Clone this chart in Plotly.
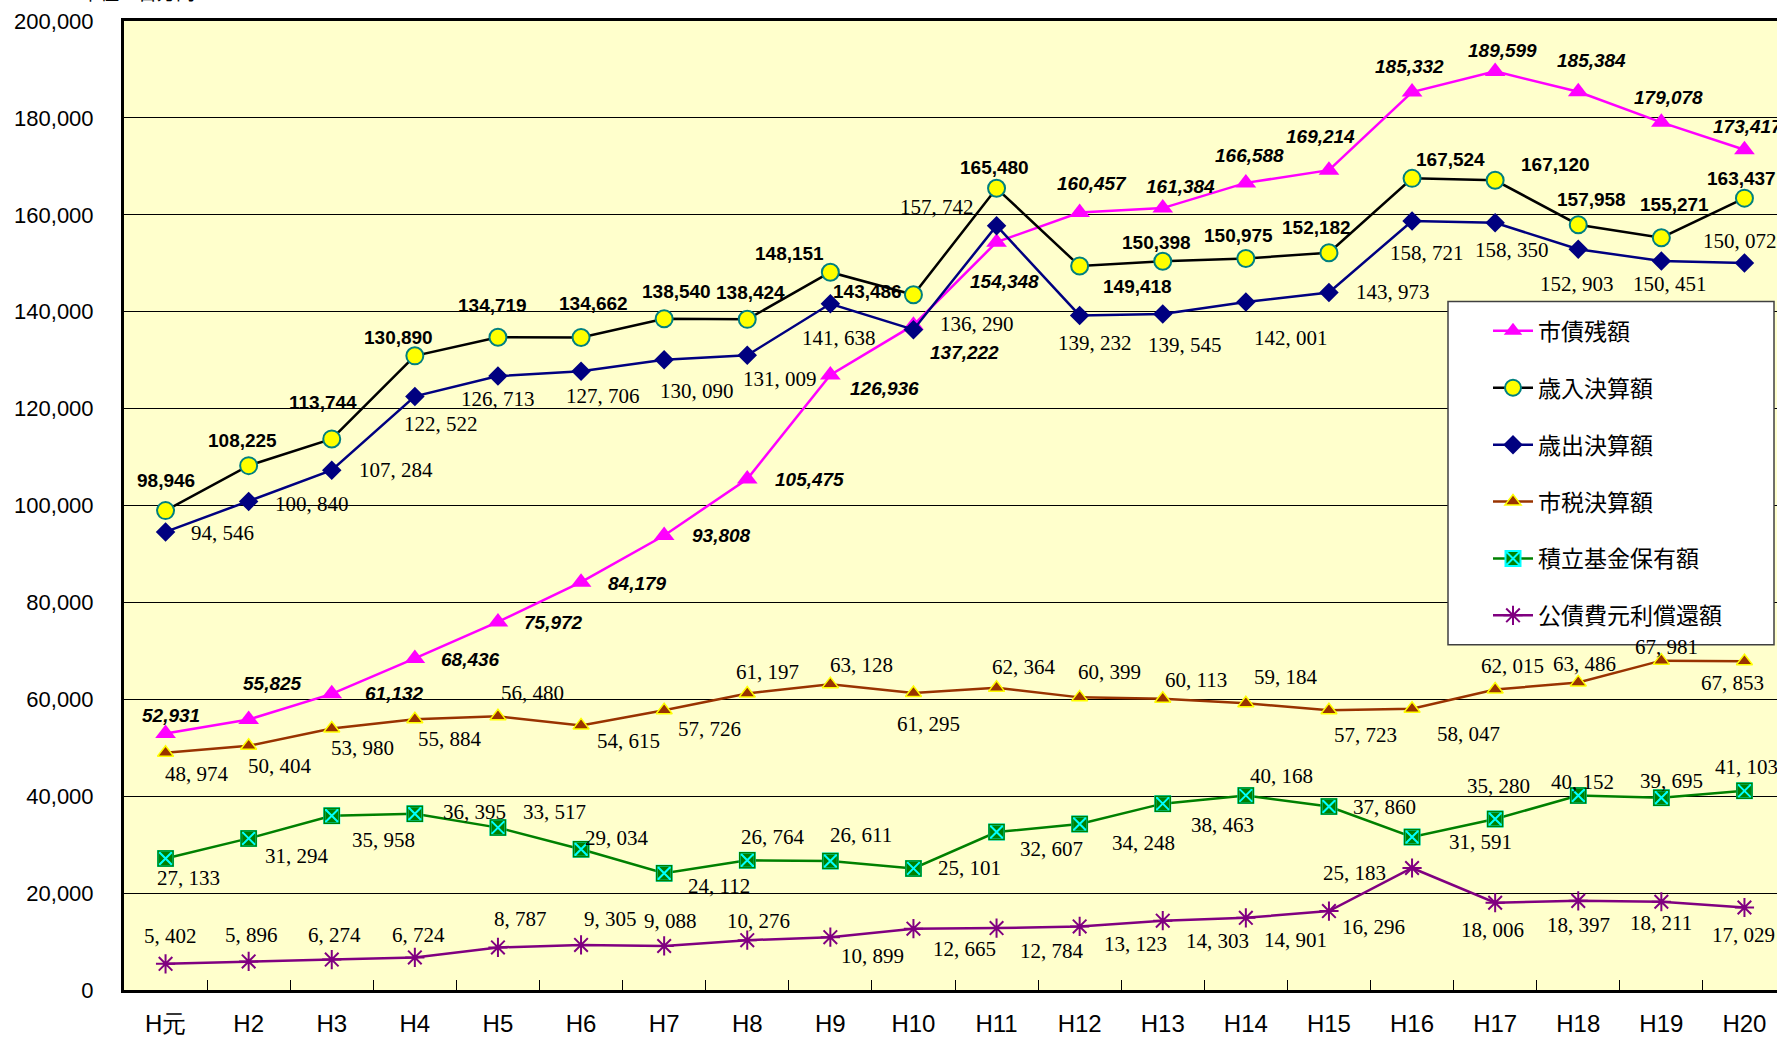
import plotly.graph_objects as go

years = ["H元", "H2", "H3", "H4", "H5", "H6", "H7", "H8", "H9", "H10",
         "H11", "H12", "H13", "H14", "H15", "H16", "H17", "H18", "H19", "H20"]

debt = [52931, 55825, 61132, 68436, 75972, 84179, 93808, 105475, 126936, 137222,
        154348, 160457, 161384, 166588, 169214, 185332, 189599, 185384, 179078, 173417]
revenue = [98946, 108225, 113744, 130890, 134719, 134662, 138540, 138424, 148151, 143486,
           165480, 149418, 150398, 150975, 152182, 167524, 167120, 157958, 155271, 163437]
expend = [94546, 100840, 107284, 122522, 126713, 127706, 130090, 131009, 141638, 136290,
          157742, 139232, 139545, 142001, 143973, 158721, 158350, 152903, 150451, 150072]
tax = [48974, 50404, 53980, 55884, 56480, 54615, 57726, 61197, 63128, 61295,
       62364, 60399, 60113, 59184, 57723, 58047, 62015, 63486, 67981, 67853]
fund = [27133, 31294, 35958, 36395, 33517, 29034, 24112, 26764, 26611, 25101,
        32607, 34248, 38463, 40168, 37860, 31591, 35280, 40152, 39695, 41103]
bond = [5402, 5896, 6274, 6724, 8787, 9305, 9088, 10276, 10899, 12665,
        12784, 13123, 14303, 14901, 16296, 25183, 18006, 18397, 18211, 17029]

names = ["市債残額", "歳入決算額", "歳出決算額", "市税決算額", "積立基金保有額", "公債費元利償還額"]
unit_text = "単位：百万円"

# label offsets (pixels, dx right, dy down) relative to each point
off_debt = [(5, -18), (24, -36), (63, 0), (56, 1), (56, 1), (56, 1), (57, 0), (62, 1), (54, 13), (51, 27),
            (8, 39), (12, -29), (18, -22), (4, -27), (-8, -34), (-3, -26), (7, -21), (13, -31), (7, -25), (4, -23)]
off_rev = [(0, -30), (-6, -25), (-9, -36), (-16, -18), (-5, -32), (12, -34), (12, -27), (3, -27), (-41, -19), (-46, -3),
           (-2, -21), (58, 20), (-6, -19), (-7, -23), (-12, -25), (38, -19), (60, -16), (13, -25), (13, -33), (-3, -20)]
off_exp = [(57, 1), (63, 3), (64, 0), (26, 28), (0, 23), (22, 25), (33, 31), (33, 24), (9, 34), (64, -6),
           (-60, -19), (15, 28), (22, 31), (45, 36), (64, 0), (15, 32), (17, 27), (-1, 35), (9, 23), (-4, -22)]
off_tax = [(31, 21), (31, 20), (31, 20), (35, 20), (35, -23), (47, 16), (45, 19), (20, -22), (31, -19), (15, 31),
           (27, -21), (30, -25), (33, -19), (40, -26), (37, 25), (56, 25), (17, -24), (6, -18), (5, -14), (-12, 22)]
off_fund = [(23, 19), (48, 18), (52, 24), (60, -2), (57, -16), (36, -11), (55, 13), (26, -23), (31, -26), (56, 0),
            (55, 17), (64, 19), (60, 21), (36, -19), (56, 0), (68, 5), (3, -33), (4, -13), (10, -17), (2, -24)]
off_bond = [(5, -28), (3, -26), (3, -25), (4, -22), (23, -28), (29, -26), (6, -25), (11, -19), (42, 19), (51, 20),
            (55, 23), (56, 18), (55, 20), (50, 22), (45, 16), (-58, 5), (-3, 27), (0, 24), (0, 21), (-1, 28)]

sans = "Liberation Sans, Arial, sans-serif"
serif = "Liberation Serif, Times New Roman, serif"
cjk = "Noto Sans CJK JP, sans-serif"

fig = go.Figure()

series = [
    (debt, dict(color="#FF00FF", width=2.5),
     dict(symbol="triangle-up", size=18, color="#FF00FF", line=dict(width=0))),
    (revenue, dict(color="#000000", width=2.5),
     dict(symbol="circle", size=17, color="#FFFF00", line=dict(color="#008080", width=2))),
    (expend, dict(color="#000080", width=2.5),
     dict(symbol="diamond", size=15, color="#000080", line=dict(width=0))),
    (tax, dict(color="#993300", width=2.5),
     dict(symbol="triangle-up", size=14, color="#993300", line=dict(color="#FFFF00", width=1.5))),
    (fund, dict(color="#008000", width=2.5),
     dict(symbol="square-x", size=15, color="#008000", line=dict(color="#00FFFF", width=2))),
    (bond, dict(color="#800080", width=2.5),
     dict(symbol="asterisk-open", size=16, color="#800080", line=dict(color="#800080", width=2))),
]

for idx, (vals, ln, mk) in enumerate(series):
    fig.add_trace(go.Scatter(
        x=years, y=vals, name=names[idx], mode="lines+markers",
        line=ln, marker=mk, legendgroup=f"g{idx}", cliponaxis=False,
    ))
    if idx == 4:
        # green outline over the fund markers
        fig.add_trace(go.Scatter(
            x=years, y=vals, mode="markers", showlegend=False, hoverinfo="skip",
            marker=dict(symbol="square-open", size=15, color="#008000",
                        line=dict(color="#008000", width=1.5)),
            legendgroup=f"g{idx}", cliponaxis=False,
        ))

annotations = []


def add_labels(vals, offs, fmt, font):
    for xcat, v, (dx, dy) in zip(years, vals, offs):
        annotations.append(dict(
            x=xcat, y=v, xref="x", yref="y", text=fmt(v), showarrow=False,
            xshift=dx, yshift=-dy, font=font, xanchor="center", yanchor="middle",
        ))


f_comma = lambda v: f"{v:,}"
f_serif = lambda v: f"{v:,}".replace(",", ", ")

add_labels(debt, off_debt, lambda v: f"<i>{v:,}</i>",
           dict(family=sans, size=19, color="#000000", weight="bold"))
add_labels(revenue, off_rev, f_comma, dict(family=sans, size=19, color="#000000", weight="bold"))
add_labels(expend, off_exp, f_serif, dict(family=serif, size=21, color="#000000"))
add_labels(tax, off_tax, f_serif, dict(family=serif, size=21, color="#000000"))
add_labels(fund, off_fund, f_serif, dict(family=serif, size=21, color="#000000"))
add_labels(bond, off_bond, f_serif, dict(family=serif, size=21, color="#000000"))

W, H = 1777, 1037
L, T, B = 124, 21, 45
plot_w = W - L
cat_w = 83.1
x_end = -0.5 + plot_w / cat_w
plot_h = H - T - B


def px_x(px):
    return (px - L) / plot_w


def px_y(py):
    return (H - B - py) / plot_h


# unit caption, mostly above the top edge of the picture as in the reference
annotations.append(dict(
    x=px_x(138), y=px_y(-9), xref="paper", yref="paper", text=unit_text,
    showarrow=False, xanchor="center", yanchor="middle",
    font=dict(family=cjk, size=19, color="#000000"),
))

shapes = [
    dict(type="rect", xref="paper", yref="paper",
         x0=px_x(1448), x1=px_x(1774), y0=px_y(646), y1=px_y(302),
         fillcolor="#FFFFFF", line=dict(color="#404040", width=1.5), layer="above"),
]

fig.update_layout(
    width=W, height=H,
    margin=dict(l=L, r=0, t=T, b=B, pad=0),
    paper_bgcolor="#FFFFFF",
    plot_bgcolor="#FFFFCC",
    annotations=annotations,
    shapes=shapes,
    showlegend=True,
    legend=dict(
        x=px_x(1488), y=px_y(310), xanchor="left", yanchor="top",
        bgcolor="rgba(0,0,0,0)", borderwidth=0,
        font=dict(family=cjk, size=23, color="#000000"),
        tracegroupgap=24, itemwidth=40,
    ),
    xaxis=dict(
        type="category", range=[-0.5, x_end],
        showline=True, linecolor="#000000", linewidth=3, mirror=True,
        ticks="inside", tickson="boundaries", ticklen=10, tickcolor="#000000", tickwidth=1,
        showgrid=False, zeroline=False,
        tickfont=dict(family=sans, size=24, color="#000000"),
        ticklabelstandoff=10,
    ),
    yaxis=dict(
        range=[0, 200000], dtick=20000, tickformat=",",
        showline=True, linecolor="#000000", linewidth=3,
        showgrid=True, gridcolor="#000000", gridwidth=1.2,
        ticks="", zeroline=False,
        tickfont=dict(family=sans, size=22, color="#000000"),
        ticklabelstandoff=23,
    ),
)

fig.write_html(
    "out.html",
    config={"displayModeBar": False},
    post_script="document.body.style.margin='0px';document.body.style.overflow='hidden';",
)
